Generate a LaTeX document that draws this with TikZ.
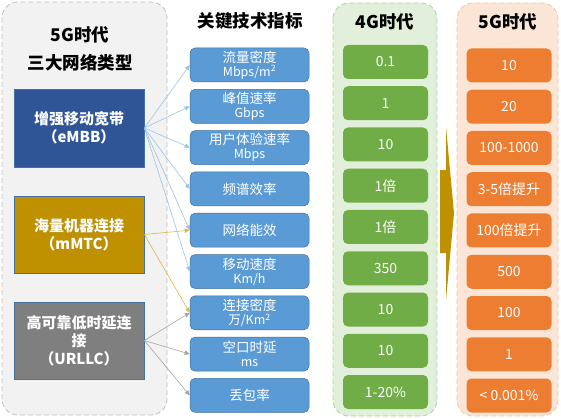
\documentclass[tikz,border=0pt]{standalone}
\usepackage{fontspec}
\newfontfamily\cjk{Noto Sans CJK SC}
\usetikzlibrary{arrows.meta}
\definecolor{embbblue}{HTML}{2F5597}
\definecolor{mmtcgold}{HTML}{BF9000}
\definecolor{urllcgray}{HTML}{7F7F7F}
\definecolor{edgeblue}{HTML}{41719C}
\definecolor{metricblue}{HTML}{5B9BD5}
\definecolor{valgreen}{HTML}{70AD47}
\definecolor{valorange}{HTML}{ED7D31}
\definecolor{linkblue}{HTML}{9DC3E6}
\definecolor{linkgold}{HTML}{DDB54A}
\definecolor{linkgray}{HTML}{A5A5A5}
\newcommand\unitline[1]{{\fontsize{12.5}{13}\selectfont #1}}

\begin{document}
\begin{tikzpicture}[x=1pt, y=-1pt, font=\cjk,
    group/.style={draw=#1, dash pattern=on 5pt off 3pt, line width=0.8pt, rounded corners=16pt},
    title/.style={font=\cjk\bfseries\fontsize{17.5}{28}\selectfont, align=center},
    kind/.style={draw=edgeblue, line width=0.7pt, fill=#1, text=white, minimum width=130pt,
      minimum height=77pt, align=center, font=\cjk\bfseries\fontsize{15}{18}\selectfont},
    metric/.style={rounded corners=5pt, fill=metricblue, draw=edgeblue, line width=0.5pt, text=white,
      minimum width=119pt, minimum height=34pt, inner sep=0pt, align=center,
      font=\cjk\fontsize{13.5}{14}\selectfont},
    value/.style={rounded corners=5pt, fill=#1, text=white, minimum width=85pt,
      minimum height=34pt, inner sep=0pt, font=\cjk\fontsize{14}{15}\selectfont},
    link/.style={draw=#1, line width=0.6pt, -{Triangle[length=5pt,width=4.5pt]}}]
      \useasboundingbox (0,0) rectangle (561,419);
      \draw[group=black!25, fill=black!5] (2,2) rectangle (167,415);
      \draw[group=valgreen!55, fill=valgreen!20] (333,3) rectangle (437,416);
      \draw[group=valorange!45, fill=valorange!20] (457,3) rectangle (558,416);
      \node[title] (kindtitle) at (80,49) {5G时代\\三大网络类型};
      \node[title] (metrictitle) at (250,21) {关键技术指标};
      \node[title] (oldtitle) at (385,22) {4G时代};
      \node[title] (newtitle) at (508,22) {5G时代};
      \fill[mmtcgold] (440,170) -- (446,170) -- (446,127) -- (454,213) -- (446,300)
        -- (446,253) -- (440,253) -- cycle;
      \node[kind=embbblue, minimum height=78pt] (embb) at (79,128) {增强移动宽带\\（eMBB）};
      \node[kind=mmtcgold] (mmtc) at (79,234.5) {海量机器连接\\（mMTC）};
      \node[kind=urllcgray] (urllc) at (79,340.5) {高可靠低时延连\\接\\（URLLC）};
      \foreach \txt [count=\i] in {{流量密度\\\unitline{Mbps/m\textsuperscript{2}}},
          {峰值速率\\\unitline{Gbps}}, {用户体验速率\\\unitline{Mbps}}, 频谱效率, 网络能效,
          {移动速度\\\unitline{Km/h}}, {连接密度\\\unitline{万/Km\textsuperscript{2}}},
          {空口时延\\\unitline{ms}}, 丢包率}
        \node[metric] (m\i) at (249.5, {65+41.3*(\i-1)}) {\txt};
      \foreach \txt [count=\i] in {0.1, 1, 10, 1倍, 1倍, 350, 10, 10, 1-20\%}
        \node[value=valgreen] (g\i) at (385.5, {62+41.25*(\i-1)}) {\txt};
      \foreach \txt [count=\i] in {10, 20, 100-1000, 3-5倍提升, 100倍提升, 500, 100, 1, < 0.001\%}
        \node[value=valorange] (f\i) at (509, {65.5+41.25*(\i-1)}) {\txt};
      \foreach \i in {1,...,6}
        \draw[link=linkblue] (embb.east) -- (m\i.west);
      \foreach \i in {5,7}
        \draw[link=linkgold] (mmtc.east) -- (m\i.west);
      \foreach \i in {7,8,9}
        \draw[link=linkgray] (urllc.east) -- (m\i.west);
    \end{tikzpicture}
\end{document}
